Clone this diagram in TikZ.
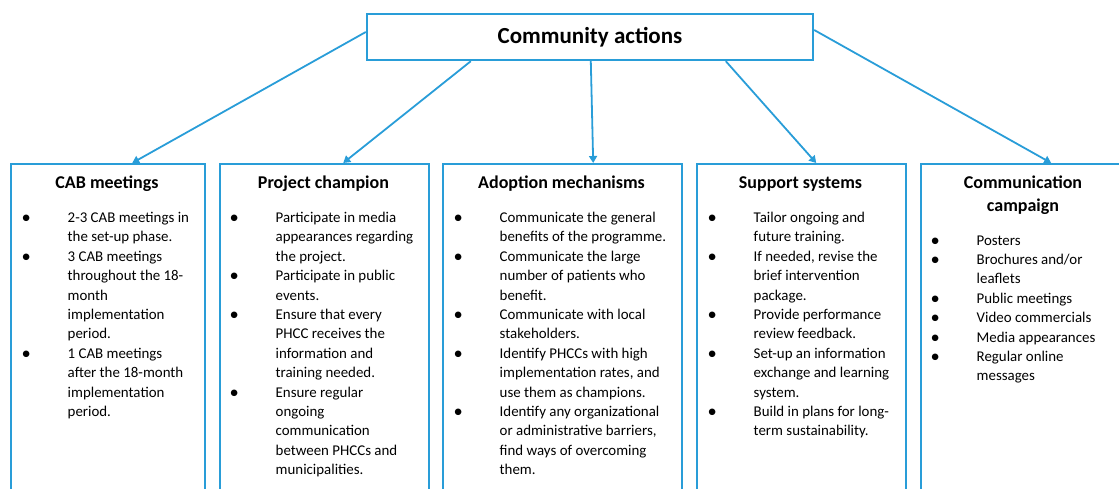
\documentclass[tikz,border=0pt]{standalone}
\usepackage{fontspec}
\setmainfont{Carlito}
\usetikzlibrary{arrows.meta}
\definecolor{frameblue}{RGB}{41,157,216}
\newcommand\bodylist[1]{{\fontsize{14.9}{19.4}\selectfont\begin{tabular}[t]{@{}p{41.5pt}@{}l@{}}#1\end{tabular}}}
\newcommand\bul{\makebox[0pt]{\raisebox{-1pt}[0pt][0pt]{\fontsize{18.5}{19.4}\selectfont\textbullet}}}
\begin{document}
\begin{tikzpicture}[x=1pt,y=-1pt,
  frame/.style={draw=frameblue, line width=2.4pt, fill=white, rectangle, inner sep=0pt},
  column/.style={frame, anchor=north west, minimum height=340pt},
  head/.style={anchor=base, inner sep=0pt, font=\fontsize{18}{23.5}\selectfont\bfseries},
  items/.style={anchor=base west, inner sep=0pt},
  link/.style={draw=frameblue, line width=1.8pt, -{Triangle[length=7pt,width=8pt]}}]
\useasboundingbox (0,0) rectangle (1119,488);
\clip (0,0) rectangle (1119,488);

% top box
\node[frame, minimum width=446pt, minimum height=46pt,
      font=\fontsize{23}{26}\selectfont\bfseries] (top) at (590,37) {Community actions};

% five columns, open below the page edge
\node[column, minimum width=194pt] (cab) at (10,163) {};
\node[column, minimum width=209pt] (champ) at (219,163) {};
\node[column, minimum width=239pt] (adopt) at (442,163) {};
\node[column, minimum width=209pt] (support) at (696,163) {};
\node[column, minimum width=206pt] (comm) at (920,163) {};

% connectors
\draw[link] ([yshift=5pt]top.west) -- ([xshift=24pt]cab.north);
\draw[link] ([xshift=105pt]top.south west) -- ([xshift=18.5pt]champ.north);
\draw[link] ([xshift=225pt]top.south west) -- ([xshift=30.5pt]adopt.north);
\draw[link] ([xshift=360pt]top.south west) -- ([xshift=14.5pt]support.north);
\draw[link] ([yshift=7pt]top.east) -- ([xshift=27pt]comm.north);

% headings
\node[head] (cabh) at (107,188) {CAB meetings};
\node[head] (champh) at (323.5,188) {Project champion};
\node[head] (adopth) at (561.5,188) {Adoption mechanisms};
\node[head] (supporth) at (800.5,188) {Support systems};
\node[head] (commh) at (1023,188) {\begin{tabular}[t]{@{}c@{}}Communication\\campaign\end{tabular}};

% bullet lists
\node[items] (cabl) at (26,222.5) {\bodylist{%
\bul & 2-3 CAB meetings in\\
 & the set-up phase.\\
\bul & 3 CAB meetings\\
 & throughout the 18-\\
 & month\\
 & implementation\\
 & period.\\
\bul & 1 CAB meetings\\
 & after the 18-month\\
 & implementation\\
 & period.}};

\node[items] (champl) at (234,222.5) {\bodylist{%
\bul & Participate in media\\
 & appearances regarding\\
 & the project.\\
\bul & Participate in public\\
 & events.\\
\bul & Ensure that every\\
 & PHCC receives the\\
 & information and\\
 & training needed.\\
\bul & Ensure regular\\
 & ongoing\\
 & communication\\
 & between PHCCs and\\
 & municipalities.}};

\node[items] (adoptl) at (458,222.5) {\bodylist{%
\bul & Communicate the general\\
 & benefits of the programme.\\
\bul & Communicate the large\\
 & number of patients who\\
 & benefit.\\
\bul & Communicate with local\\
 & stakeholders.\\
\bul & Identify PHCCs with high\\
 & implementation rates, and\\
 & use them as champions.\\
\bul & Identify any organizational\\
 & or administrative barriers,\\
 & find ways of overcoming\\
 & them.}};

\node[items] (supportl) at (712,222.5) {\bodylist{%
\bul & Tailor ongoing and\\
 & future training.\\
\bul & If needed, revise the\\
 & brief intervention\\
 & package.\\
\bul & Provide performance\\
 & review feedback.\\
\bul & Set-up an information\\
 & exchange and learning\\
 & system.\\
\bul & Build in plans for long-\\
 & term sustainability.}};

\node[items] (comml) at (935,245) {\bodylist{%
\bul & Posters\\
\bul & Brochures and/or\\
 & leaflets\\
\bul & Public meetings\\
\bul & Video commercials\\
\bul & Media appearances\\
\bul & Regular online\\
 & messages}};
\end{tikzpicture}
\end{document}
